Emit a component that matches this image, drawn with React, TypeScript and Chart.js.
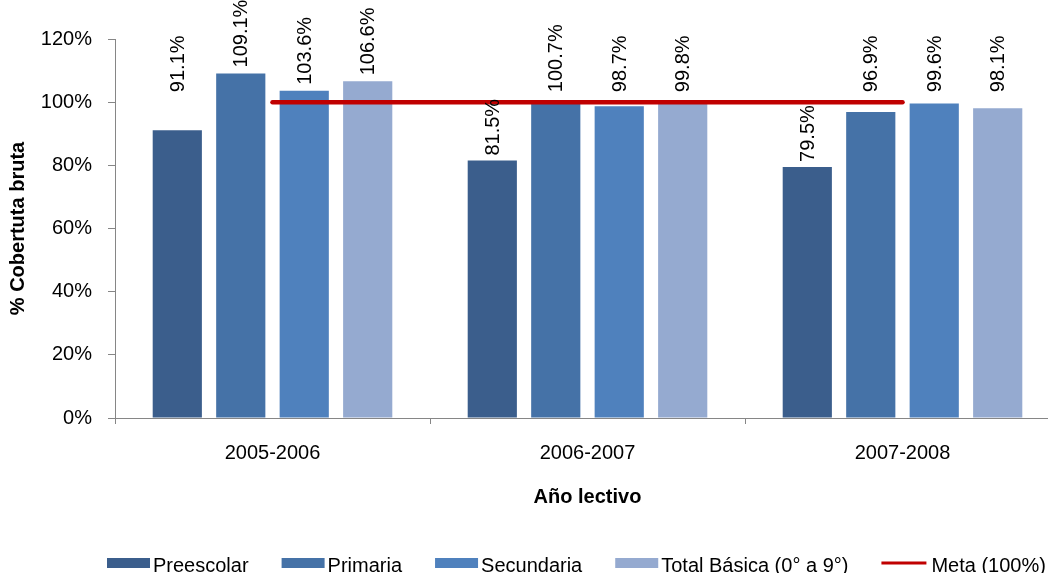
import React, { useEffect, useRef } from 'react';
import { Chart, registerables } from 'chart.js';

Chart.register(...registerables);

const FONT = "'Liberation Sans', Arial, sans-serif";

const categories = ['2005-2006', '2006-2007', '2007-2008'];
const preescolar = [91.1, 81.5, 79.5];
const primaria = [109.1, 100.7, 96.9];
const secundaria = [103.6, 98.7, 99.6];
const totalBasica = [106.6, 99.8, 98.1];
const meta = [100, 100, 100];
const seriesNames = ['Preescolar', 'Primaria', 'Secundaria', 'Total Básica (0° a 9°)', 'Meta (100%)'];
const seriesColors = ['#3B5E8C', '#4572A7', '#4F81BD', '#95AAD0', '#C00000'];
const yMin = 0;
const yMax = 120;
const yStep = 20;
const yTitle = '% Cobertuta bruta';
const xTitle = 'Año lectivo';

const labelPlugin = {
  id: 'barLabels',
  afterDraw(chart: any) {
    const ctx = chart.ctx;
    const lineY = chart.scales.y.getPixelForValue(meta[0]);
    ctx.save();
    ctx.font = `20px ${FONT}`;
    ctx.fillStyle = '#000';
    ctx.textAlign = 'left';
    ctx.textBaseline = 'middle';
    chart.data.datasets.forEach((ds: any, di: number) => {
      if (ds.type === 'line') return;
      const m = chart.getDatasetMeta(di);
      m.data.forEach((bar: any, i: number) => {
        const v = ds.data[i];
        const text = v.toFixed(1) + '%';
        let bottom = bar.y - 5;
        if (v >= 90) bottom = Math.min(bar.y - 6, lineY - 10);
        ctx.save();
        ctx.translate(bar.x + 1, bottom);
        ctx.rotate(-Math.PI / 2);
        ctx.fillText(text, 0, 0);
        ctx.restore();
      });
    });
    ctx.restore();
  },
};

const legendPlugin = {
  id: 'customLegend',
  afterDraw(chart: any) {
    const ctx = chart.ctx;
    ctx.save();
    ctx.font = `20px ${FONT}`;
    ctx.textAlign = 'left';
    ctx.textBaseline = 'alphabetic';
    let x = 107;
    const boxTop = 558;
    const baseline = 572;
    chart.data.datasets.forEach((ds: any) => {
      if (ds.type === 'line') {
        ctx.strokeStyle = ds.borderColor;
        ctx.lineWidth = 3;
        ctx.beginPath();
        ctx.moveTo(x, boxTop + 5);
        ctx.lineTo(x + 45, boxTop + 5);
        ctx.stroke();
        x += 50;
      } else {
        ctx.fillStyle = ds.backgroundColor;
        ctx.fillRect(x, boxTop, 43, 10);
        x += 46;
      }
      ctx.fillStyle = '#000';
      ctx.fillText(ds.label, x, baseline);
      x += ctx.measureText(ds.label).width + 33;
    });
    ctx.restore();
  },
};

export default function App() {
  const ref = useRef<HTMLCanvasElement>(null);
  useEffect(() => {
    if (!ref.current) return;
    const barSeries = [preescolar, primaria, secundaria, totalBasica];
    const datasets: any[] = barSeries.map((d, i) => ({
      type: 'bar',
      label: seriesNames[i],
      data: d,
      backgroundColor: seriesColors[i],
      categoryPercentage: 0.806,
      barPercentage: 0.775,
      order: 1,
    }));
    datasets.push({
      type: 'line',
      label: seriesNames[4],
      data: meta,
      borderColor: seriesColors[4],
      backgroundColor: seriesColors[4],
      borderWidth: 4.5,
      borderCapStyle: 'round',
      pointRadius: 0,
      fill: false,
      order: 0,
    });
    const chart = new Chart(ref.current, {
      type: 'bar',
      data: { labels: categories, datasets },
      options: {
        responsive: false,
        animation: false,
        layout: { padding: { top: 39, right: 10, bottom: 60, left: 0 } },
        plugins: {
          legend: { display: false },
          tooltip: { enabled: false },
        },
        scales: {
          x: {
            offset: true,
            grid: {
              display: true,
              drawOnChartArea: false,
              drawTicks: true,
              tickLength: 6,
              color: '#868686',
              offset: true,
            },
            border: { color: '#868686', width: 1 },
            ticks: { color: '#000', font: { family: FONT, size: 20 }, padding: 17 },
            title: {
              display: true,
              text: xTitle,
              color: '#000',
              font: { family: FONT, size: 20, weight: 'bold' },
              padding: { top: 0, bottom: 4 },
            },
            afterFit: (scale: any) => {
              scale.height = 95;
            },
          },
          y: {
            min: yMin,
            max: yMax,
            grid: {
              drawOnChartArea: false,
              drawTicks: true,
              tickLength: 7,
              color: '#868686',
            },
            border: { color: '#868686', width: 1 },
            ticks: {
              stepSize: yStep,
              color: '#000',
              font: { family: FONT, size: 20 },
              padding: 16,
              callback: (v: any) => v + '%',
            },
            title: {
              display: true,
              text: yTitle,
              color: '#000',
              font: { family: FONT, size: 20, weight: 'bold' },
              padding: { top: 6, bottom: 0 },
            },
            afterFit: (scale: any) => {
              scale.width = 115;
            },
          },
        },
      } as any,
      plugins: [labelPlugin, legendPlugin],
    });
    return () => chart.destroy();
  }, []);
  return (
    <div style={{ position: 'fixed', left: 0, top: 0, width: 1048, height: 573, overflow: 'hidden', background: '#fff' }}>
      <canvas ref={ref} width={1070} height={573} style={{ display: 'block' }} />
    </div>
  );
}
